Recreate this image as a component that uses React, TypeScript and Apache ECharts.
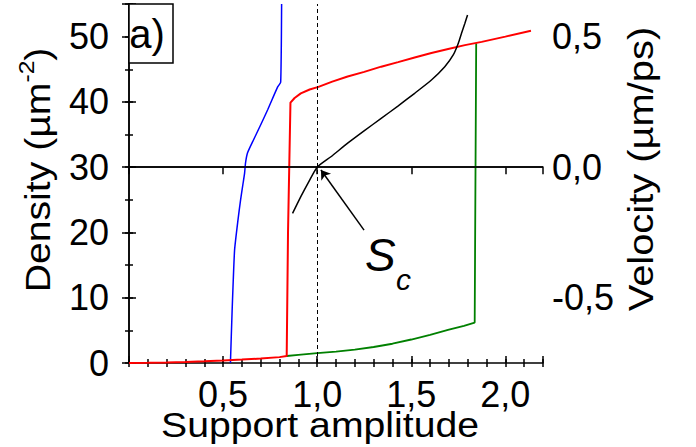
import React, { useEffect, useRef } from "react";
import * as echarts from "echarts";

// ---- data ----
const blueX = [0.539, 0.548, 0.561, 0.579, 0.593, 0.606, 0.614, 0.619, 0.630, 0.662, 0.700, 0.737, 0.790, 0.806, 0.811];
const blueY = [0, 8, 17.3, 21.9, 25.0, 27.5, 29.0, 30.6, 32.2, 34.2, 36.5, 38.8, 42.3, 43.0, 55];

const redX = [0, 0.1, 0.2, 0.3, 0.4, 0.5, 0.6, 0.7, 0.8, 0.838, 0.845, 0.858, 0.88, 0.913, 0.96, 1.007, 1.08, 1.162, 1.25, 1.34, 1.43, 1.518, 1.607, 1.696, 1.785, 1.874, 2.0, 2.136];
const redY = [0, 0.03, 0.08, 0.15, 0.25, 0.38, 0.52, 0.68, 0.9, 1.07, 20, 39.9, 40.6, 41.3, 41.9, 42.3, 43.1, 43.9, 44.6, 45.4, 46.1, 46.8, 47.5, 48.1, 48.7, 49.2, 50.0, 50.9];

const greenX = [0.838, 0.9, 1.0, 1.1, 1.2, 1.3, 1.4, 1.5, 1.6, 1.7, 1.78, 1.837, 1.845];
const greenY = [1.07, 1.25, 1.5, 1.75, 2.05, 2.45, 2.95, 3.6, 4.3, 5.1, 5.7, 6.2, 49.0];

const velX = [0.869, 0.913, 0.955, 1.0, 1.073, 1.162, 1.251, 1.340, 1.429, 1.518, 1.607, 1.678, 1.723, 1.750, 1.767, 1.785, 1.799];
const velY = [-0.177, -0.113, -0.056, 0, 0.040, 0.092, 0.140, 0.187, 0.234, 0.283, 0.334, 0.385, 0.430, 0.475, 0.513, 0.551, 0.583];

const xLabels = [0.5, 1.0, 1.5, 2.0];
const densityLabels = [0, 10, 20, 30, 40, 50];
const velocityLabels = [-0.5, 0, 0.5];

const criticalX = 1.0;
const arrowFrom = [1.249, -0.241];
const arrowTo = [1.02, -0.011];

const zip = (xs: number[], ys: number[]) => xs.map((x, i) => [x, ys[i]]);
const near = (a: number, b: number) => Math.abs(a - b) < 1e-6;
const comma = (v: number) => v.toFixed(1).replace(".", ",");

const FONT = "Liberation Sans, Arial, Helvetica, sans-serif";
const BLACK = "#000";

export default function App() {
  const ref = useRef<HTMLDivElement>(null);

  useEffect(() => {
    if (!ref.current) return;
    const chart = echarts.init(ref.current, undefined, { renderer: "svg" });

    const lineAxis = { show: true, lineStyle: { color: BLACK, width: 1.5 } };
    const noLine = { show: false };
    const majorTick = { show: true, inside: true, length: 7, lineStyle: { color: BLACK, width: 1.5 } };
    const minorTickS = { show: true, inside: true, length: 4, lineStyle: { color: BLACK, width: 1.5 } };
    const noLabel = { show: false };
    const noSplit = { show: false };
    const labelStyle = { color: BLACK, fontSize: 36, fontFamily: FONT };

    const xBase = { type: "value", min: 0, max: 2.2, splitLine: noSplit };
    const dBase = { type: "value", min: 0, max: 55, splitLine: noSplit };

    const option: any = {
      animation: false,
      backgroundColor: "#fff",
      grid: { left: 129, right: 153, top: 4, bottom: 84, containLabel: false, outerBoundsMode: "none" },
      xAxis: [
        {
          ...xBase, position: "bottom", interval: 0.5, axisLine: lineAxis, axisTick: majorTick,
          axisLabel: {
            ...labelStyle, margin: 13,
            formatter: (v: number) => (xLabels.some((l) => near(l, v)) ? comma(v) : ""),
          },
        },
        { ...xBase, position: "bottom", interval: 0.1, axisLine: noLine, axisTick: minorTickS, axisLabel: noLabel },
        { ...xBase, position: "top", interval: 0.5, axisLine: lineAxis, axisTick: majorTick, axisLabel: noLabel },
        { ...xBase, position: "top", interval: 0.1, axisLine: noLine, axisTick: minorTickS, axisLabel: noLabel },
      ],
      yAxis: [
        {
          ...dBase, position: "left", interval: 10, axisLine: lineAxis, axisTick: majorTick,
          axisLabel: {
            ...labelStyle, margin: 20,
            formatter: (v: number) => (densityLabels.some((l) => near(l, v)) ? String(v) : ""),
          },
        },
        { ...dBase, position: "left", interval: 5, axisLine: noLine, axisTick: minorTickS, axisLabel: noLabel },
        {
          type: "value", position: "right", min: -0.75, max: 0.625, interval: 0.25, splitLine: noSplit,
          axisLine: lineAxis, axisTick: majorTick,
          axisLabel: {
            ...labelStyle, margin: 9,
            formatter: (v: number) => (velocityLabels.some((l) => near(l, v)) ? comma(v) : ""),
          },
        },
        { ...dBase, position: "right", interval: 5, axisLine: noLine, axisTick: minorTickS, axisLabel: noLabel },
      ],
      series: [
        {
          type: "line", name: "blue", xAxisIndex: 0, yAxisIndex: 0, data: zip(blueX, blueY),
          showSymbol: false, symbol: "none", smooth: 0.15, lineStyle: { color: "#0000ff", width: 1.5 },
          markLine: {
            silent: true, symbol: ["none", "none"], label: { show: false },
            lineStyle: { color: BLACK, width: 1.5, type: "solid" },
            data: [{ yAxis: 30 }],
          },
        },
        {
          type: "line", name: "green", xAxisIndex: 0, yAxisIndex: 0, data: zip(greenX, greenY),
          showSymbol: false, symbol: "none", lineStyle: { color: "#008000", width: 1.8 },
        },
        {
          type: "line", name: "red", xAxisIndex: 0, yAxisIndex: 0, data: zip(redX, redY),
          showSymbol: false, symbol: "none", lineStyle: { color: "#ff0000", width: 2 },
          markLine: {
            silent: true, symbol: ["none", "none"], label: { show: false },
            lineStyle: { color: BLACK, width: 1, type: [4, 3] },
            data: [{ xAxis: criticalX }],
          },
        },
        {
          type: "line", name: "velocity", xAxisIndex: 0, yAxisIndex: 2, data: zip(velX, velY),
          showSymbol: false, symbol: "none", smooth: 0.2, lineStyle: { color: BLACK, width: 1.5 },
          markLine: {
            silent: true, symbol: ["none", "arrow"], symbolSize: 9, label: { show: false },
            lineStyle: { color: BLACK, width: 1.5, type: "solid" },
            data: [[{ coord: arrowFrom }, { coord: arrowTo }]],
          },
        },
      ],
      graphic: [
        {
          type: "rect", shape: { x: 129, y: 4, width: 44, height: 59 },
          style: { fill: "#fff", stroke: BLACK, lineWidth: 1.5 }, z: 100,
        },
        {
          type: "text", x: 147, y: 34, z: 101,
          style: { text: "a)", fontSize: 40, fontFamily: FONT, fill: BLACK, align: "center", verticalAlign: "middle", textAlign: "center", textVerticalAlign: "middle" },
        },
        {
          type: "text", x: 365, y: 255, z: 101,
          style: { text: "S", fontSize: 46, fontStyle: "italic", fontFamily: FONT, fill: BLACK, align: "left", verticalAlign: "middle", textAlign: "left", textVerticalAlign: "middle" },
        },
        {
          type: "text", x: 396, y: 279, z: 101,
          style: { text: "c", fontSize: 30, fontStyle: "italic", fontFamily: FONT, fill: BLACK, align: "left", verticalAlign: "middle", textAlign: "left", textVerticalAlign: "middle" },
        },
        {
          type: "text", x: 320, y: 425, scaleX: 1.12, z: 101,
          style: { text: "Support amplitude", fontSize: 35, fontFamily: FONT, fill: BLACK, align: "center", verticalAlign: "middle", textAlign: "center", textVerticalAlign: "middle" },
        },
        {
          type: "text", x: 35, y: 170, rotation: Math.PI / 2, scaleX: 1.12, z: 101,
          style: {
            text: "{m|Density (µm}{s|-2}{m|)}", fontSize: 35, fontFamily: FONT, fill: BLACK,
            align: "center", verticalAlign: "middle", textAlign: "center", textVerticalAlign: "middle",
            rich: {
              m: { fontSize: 35, fontFamily: FONT, fill: BLACK, lineHeight: 40, verticalAlign: "bottom" },
              s: { fontSize: 22, fontFamily: FONT, fill: BLACK, lineHeight: 22, verticalAlign: "top" },
            },
          },
        },
        {
          type: "text", x: 641, y: 169, rotation: Math.PI / 2, scaleX: 1.14, z: 101,
          style: { text: "Velocity (µm/ps)", fontSize: 35, fontFamily: FONT, fill: BLACK, align: "center", verticalAlign: "middle", textAlign: "center", textVerticalAlign: "middle" },
        },
      ],
    };

    chart.setOption(option);
    return () => chart.dispose();
  }, []);

  return (
    <div
      ref={ref}
      style={{ position: "fixed", left: 0, top: 0, width: 696, height: 447, background: "#fff" }}
    />
  );
}
